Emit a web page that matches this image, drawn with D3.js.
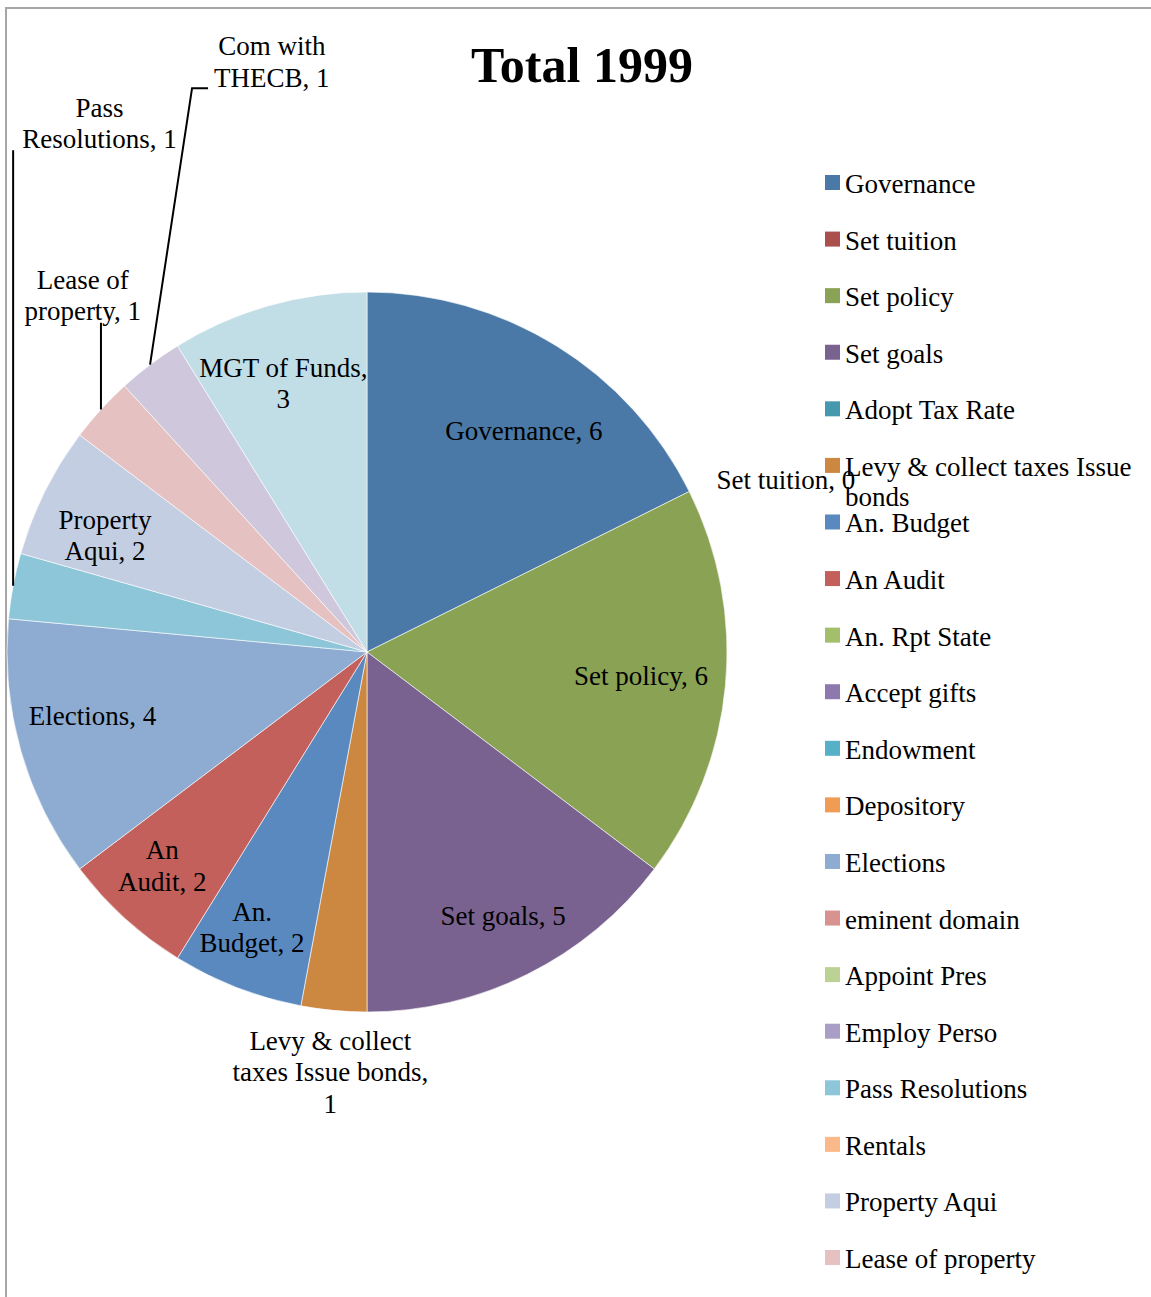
<!DOCTYPE html>
<html>
<head>
<meta charset="utf-8">
<script src="https://cdn.jsdelivr.net/npm/d3@7"></script>
<style>
  html, body { margin: 0; padding: 0; background: #ffffff; }
  svg { display: block; }
  text { font-family: "Liberation Serif", "Times New Roman", serif; fill: #000; }
</style>
</head>
<body>
<svg id="chart" width="1151" height="1297"></svg>
<script>
// Board responsibilities counted for 1999
const categories = [
  "Governance", "Set tuition", "Set policy", "Set goals", "Adopt Tax Rate",
  "Levy & collect taxes Issue bonds", "An. Budget", "An Audit", "An. Rpt State",
  "Accept gifts", "Endowment", "Depository", "Elections", "eminent domain",
  "Appoint Pres", "Employ Perso", "Pass Resolutions", "Rentals", "Property Aqui",
  "Lease of property", "Com with THECB", "MGT of Funds"
];
const values = [6, 0, 6, 5, 0, 1, 2, 2, 0, 0, 0, 0, 4, 0, 0, 0, 1, 0, 2, 1, 1, 3];
const sliceColors = [
  "#4a79a7", "#aa4f4c", "#8aa253", "#79628f", "#4598ad", "#cc8741",
  "#5a89c0", "#c3605b", "#a4bf6b", "#8d79ad", "#55b0c8", "#f19c55",
  "#8eacd1", "#d89290", "#bcd295", "#ab9ec6", "#8cc6d8", "#fbb98a",
  "#c4cee2", "#e5c2c1", "#cfc8dc", "#c1dde6"
];
const chartTitle = "Total 1999";
const legendEntries = 20; // the legend box only has room for the first twenty

// Data label placement: radius (fraction of pie radius), angular nudge in degrees,
// wrap width in px, and an optional leader line style.
const labelLayout = [
  { name: "Governance",        r: 0.753, nudge: 3.6,  wrap: 300 },
  { name: "Set tuition",       r: 1.258, nudge: 4.1,  wrap: 300 },
  { name: "Set policy",        r: 0.764, nudge: -0.3, wrap: 300 },
  { name: "Set goals",         r: 0.825, nudge: -0.8, wrap: 300 },
  { name: "Levy & collect taxes Issue bonds", r: 1.17, nudge: -0.3, wrap: 205 },
  { name: "An. Budget",        r: 0.828, nudge: 1.5,  wrap: 110 },
  { name: "An Audit",          r: 0.822, nudge: 1.4,  wrap: 95 },
  { name: "Elections",         r: 0.783, nudge: 2.8,  wrap: 300 },
  { name: "Pass Resolutions",  r: 1.647, nudge: 52.6, wrap: 170, leader: "vertical" },
  { name: "Property Aqui",     r: 0.797, nudge: -2.4, wrap: 120 },
  { name: "Lease of property", r: 1.267, nudge: 9.1,  wrap: 140, leader: "vertical" },
  { name: "Com with THECB",    r: 1.661, nudge: 27.9, wrap: 150, leader: "elbow" },
  { name: "MGT of Funds",      r: 0.783, nudge: -1.4, wrap: 175 }
];

const W = 1151, H = 1297;
const cx = 367, cy = 652, R = 360;
const fontSize = 27, lineH = 31.5;

const svg = d3.select("#chart");

// chart area border (continues past the right and bottom edges)
svg.append("path")
  .attr("d", `M6,${H} V8 H${W}`)
  .attr("fill", "none")
  .attr("stroke", "#a6a6a6")
  .attr("stroke-width", 2);

// title
svg.append("text")
  .attr("x", 582).attr("y", 82)
  .attr("text-anchor", "middle")
  .style("font-size", "50px")
  .style("font-weight", "bold")
  .text(chartTitle);

const data = categories.map((c, i) => ({ name: c, value: values[i], color: sliceColors[i], index: i }));

const pie = d3.pie().sort(null).value(d => d.value).startAngle(0).endAngle(2 * Math.PI);
const arcs = pie(data);
const arc = d3.arc().innerRadius(0).outerRadius(R);

const g = svg.append("g").attr("transform", `translate(${cx},${cy})`);
g.selectAll("path.slice")
  .data(arcs.filter(a => a.data.value > 0))
  .join("path")
  .attr("class", "slice")
  .attr("d", arc)
  .attr("fill", d => d.data.color)
  .attr("stroke", "#ffffff")
  .attr("stroke-width", 0.6);

const polar = (ang, r) => [r * Math.sin(ang), -r * Math.cos(ang)];

// greedy word wrap measured with a scratch text node
const scratch = svg.append("text").style("font-size", fontSize + "px").attr("visibility", "hidden");
function measure(s) { scratch.text(s); return scratch.node().getComputedTextLength(); }
function wrap(s, maxW) {
  const words = s.split(" ");
  const lines = [];
  let cur = "";
  words.forEach(w => {
    const test = cur ? cur + " " + w : w;
    if (cur && measure(test) > maxW) { lines.push(cur); cur = w; }
    else cur = test;
  });
  if (cur) lines.push(cur);
  return lines;
}

const labelsG = g.append("g");
const leadersG = g.append("g");

labelLayout.forEach(spec => {
  const a = arcs.find(d => d.data.name === spec.name);
  if (!a) return;
  const mid = (a.startAngle + a.endAngle) / 2;
  const [lx, ly] = polar(mid + spec.nudge * Math.PI / 180, R * spec.r);
  const lines = wrap(`${a.data.name}, ${a.data.value}`, spec.wrap);
  const n = lines.length;
  const t = labelsG.append("text")
    .attr("text-anchor", "middle")
    .style("font-size", fontSize + "px");
  lines.forEach((ln, i) => {
    t.append("tspan")
      .attr("x", lx)
      .attr("y", ly + (i - (n - 1) / 2) * lineH)
      .attr("dy", "0.35em")
      .text(ln);
  });

  if (spec.leader) {
    const [ex, ey] = polar(mid, R);
    const bottom = ly + n * lineH / 2;
    let d;
    if (spec.leader === "vertical") {
      d = `M${ex},${ey} V${bottom - 4}`;
    } else {
      const wLast = measure(lines[n - 1]);
      const left = lx - wLast / 2;
      const yy = bottom - 5;
      d = `M${ex},${ey} L${left - 22},${yy} H${left - 6}`;
    }
    leadersG.append("path")
      .attr("d", d)
      .attr("fill", "none")
      .attr("stroke", "#000")
      .attr("stroke-width", 2);
  }
});

// legend
const legX = 825, legTop = 175, legStep = 56.58, sw = 15;
const legend = svg.append("g");
data.slice(0, legendEntries).forEach((d, i) => {
  const y0 = legTop + i * legStep;
  legend.append("rect")
    .attr("x", legX).attr("y", y0)
    .attr("width", sw).attr("height", sw)
    .attr("fill", d.color);
  const lines = wrap(d.name, 290);
  const t = legend.append("text").style("font-size", fontSize + "px");
  lines.forEach((ln, k) => {
    t.append("tspan")
      .attr("x", legX + 20)
      .attr("y", y0 + 18 + k * 30)
      .text(ln);
  });
});

scratch.remove();
</script>
</body>
</html>
